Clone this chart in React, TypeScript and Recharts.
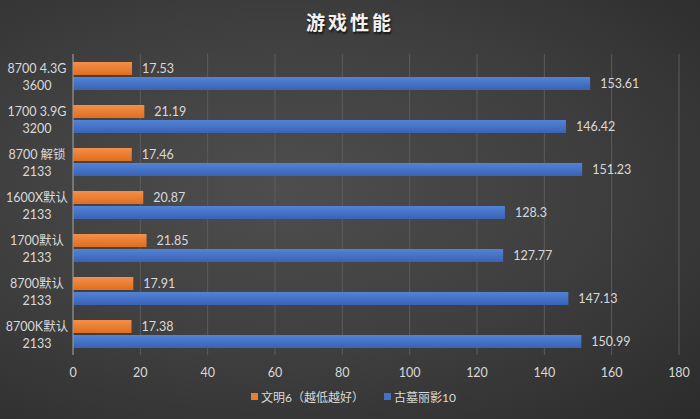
import { BarChart, Bar, XAxis, YAxis, CartesianGrid, Legend, LabelList } from 'recharts';

const categories = ['8700 4.3G|3600', '1700 3.9G|3200', '8700 解锁|2133', '1600X默认|2133', '1700默认|2133', '8700默认|2133', '8700K默认|2133'];
const civ6 = [17.53, 21.19, 17.46, 20.87, 21.85, 17.91, 17.38];
const tombRaider = [153.61, 146.42, 151.23, 128.3, 127.77, 147.13, 150.99];
const xTicks = [0, 20, 40, 60, 80, 100, 120, 140, 160, 180];
const seriesNames = ['文明6（越低越好）', '古墓丽影10'];
const seriesColors = ['#ed7d31', '#4472c4'];

const data = categories.map((name, i) => ({ name, civ6: civ6[i], tomb: tombRaider[i] }));

const FONT = "Lato, 'Noto Sans CJK SC', sans-serif";
const TEXT = '#d9d9d9';

function CategoryTick({ y, payload }: any) {
  const lines = String(payload.value).split('|');
  return (
    <text x={37} y={y} textAnchor="middle" fill={TEXT} fontSize={12.5} fontFamily={FONT}>
      <tspan x={37} dy={-3}>{lines[0]}</tspan>
      <tspan x={37} dy={17}>{lines[1]}</tspan>
    </text>
  );
}

function LegendBox() {
  return (
    <div style={{ display: 'flex', justifyContent: 'center', gap: 20, fontSize: 12, fontFamily: FONT, color: TEXT, marginLeft: 28, marginTop: 3 }}>
      {seriesNames.map((n, i) => (
        <span key={n} style={{ display: 'flex', alignItems: 'center' }}>
          <span style={{ width: 7, height: 7, background: seriesColors[i], marginRight: 3, display: 'inline-block' }} />
          {n}
        </span>
      ))}
    </div>
  );
}

export default function App() {
  return (
    <div
      style={{
        position: 'absolute', left: 0, top: 0, width: 700, height: 419,
        background: 'radial-gradient(ellipse at 40% 45%, #4e4e4e 0%, #3f3f3f 50%, #2b2b2b 100%)',
        fontFamily: FONT,
      }}
    >
      <div style={{ position: 'absolute', top: 8, width: 700, textAlign: 'center', color: '#f2f2f2', fontSize: 19, fontWeight: 700, letterSpacing: 3, fontFamily: "'Noto Sans CJK SC', sans-serif", textShadow: '1px 2px 2px rgba(0,0,0,0.7)' }}>
        游戏性能
      </div>
      <BarChart
        width={700}
        height={419}
        data={data}
        layout="vertical"
        margin={{ top: 54, right: 21, bottom: 14, left: 0 }}
        barGap={2}
        barSize={13}
      >
        <defs>
          <linearGradient id="gOrange" x1="0" y1="0" x2="0" y2="1">
            <stop offset="0%" stopColor="#f38f4a" />
            <stop offset="100%" stopColor="#e06e1e" />
          </linearGradient>
          <linearGradient id="gBlue" x1="0" y1="0" x2="0" y2="1">
            <stop offset="0%" stopColor="#5383d6" />
            <stop offset="100%" stopColor="#3863b6" />
          </linearGradient>
        </defs>
        <CartesianGrid horizontal={false} stroke="#5c5c5c" />
        <XAxis
          type="number"
          domain={[0, 180]}
          ticks={xTicks}
          axisLine={false}
          tickLine={false}
          tick={{ fill: TEXT, fontSize: 12.5, fontFamily: FONT, dy: 5 }}
          height={30}
        />
        <YAxis
          type="category"
          dataKey="name"
          width={73}
          axisLine={{ stroke: '#9a9a9a' }}
          tickLine={false}
          tick={<CategoryTick />}
        />
        <Legend verticalAlign="bottom" content={<LegendBox />} />
        <Bar dataKey="civ6" name={seriesNames[0]} fill="url(#gOrange)" isAnimationActive={false}>
          <LabelList dataKey="civ6" position="right" offset={10} fill={TEXT} fontSize={12.5} fontFamily={FONT} />
        </Bar>
        <Bar dataKey="tomb" name={seriesNames[1]} fill="url(#gBlue)" isAnimationActive={false}>
          <LabelList dataKey="tomb" position="right" offset={10} fill={TEXT} fontSize={12.5} fontFamily={FONT} />
        </Bar>
      </BarChart>
    </div>
  );
}
